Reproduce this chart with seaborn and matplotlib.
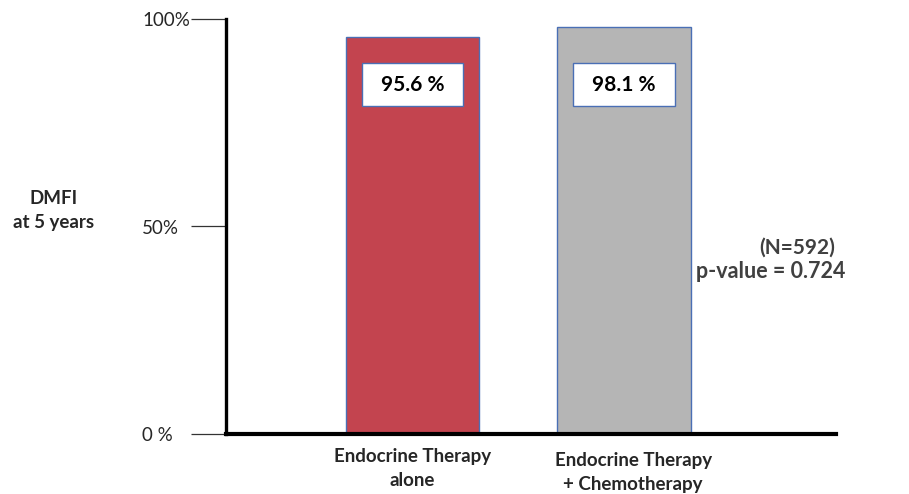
import matplotlib
matplotlib.use("Agg")
import matplotlib.pyplot as plt
import matplotlib.transforms as mtransforms
import seaborn as sns
import pandas as pd
from matplotlib.patches import Rectangle

# Values
groups = ["Endocrine Therapy\nalone", "Endocrine Therapy\n+ Chemotherapy"]
dmfi_pct = [95.6, 98.1]
bar_colors = ["#C3444F", "#B5B5B5"]
y_ticks = [0, 50, 100]
y_tick_labels = ["0 %", "50%", "100%"]
n_patients = 592
p_value = 0.724

sns.set_theme(style="white")
plt.rcParams["font.family"] = ["Lato", "DejaVu Sans"]

df = pd.DataFrame({"group": groups, "dmfi": dmfi_pct})

fig = plt.figure(figsize=(9.09, 4.94), dpi=100)
ax = fig.add_axes([226 / 909, 1 - 434 / 494, (836 - 226) / 909, (434 - 19) / 494])

sns.barplot(data=df, x="group", y="dmfi", hue="group", palette=bar_colors,
            saturation=1, width=0.63, edgecolor="#4A6FB5", linewidth=1.0,
            legend=False, ax=ax, zorder=2)

ax.set_xlim(-0.88, 2.0)
ax.set_ylim(0, 100)

# Value boxes inside the bars
for i, v in enumerate(dmfi_pct):
    ax.add_patch(Rectangle((i - 0.24, 79.0), 0.48, 10.5, facecolor="white",
                           edgecolor="#4A6FB5", linewidth=1.0, zorder=3))
    ax.text(i, 84.1, f"{v:.1f} %", ha="center", va="center", fontsize=15,
            fontweight="bold", color="black", zorder=4)

# Axes styling
for side in ["top", "right"]:
    ax.spines[side].set_visible(False)
ax.spines["left"].set_linewidth(2.4)
ax.spines["left"].set_color("black")
ax.spines["bottom"].set_linewidth(3.0)
ax.spines["bottom"].set_color("black")
ax.spines["left"].set_zorder(5)
ax.spines["bottom"].set_zorder(5)

ax.set_yticks(y_ticks)
ax.set_yticklabels(y_tick_labels, fontsize=13.5)
ax.tick_params(axis="y", which="major", direction="out", length=25, width=0.9,
               color="#333333", pad=1, left=True)
# extra gap between the lower tick labels and their tick lines
for lbl, shift in zip(ax.get_yticklabels(), [-17, -11, 0]):
    lbl.set_transform(lbl.get_transform() +
                      mtransforms.ScaledTranslation(shift / 100, 0, fig.dpi_scale_trans))

ax.tick_params(axis="x", length=0, pad=10)
for lbl, (dx, dy) in zip(ax.get_xticklabels(), [(0, 0), (9, -4)]):
    lbl.set_fontweight("bold")
    lbl.set_fontsize(13.5)
    lbl.set_linespacing(1.5)
    lbl.set_transform(lbl.get_transform() +
                      mtransforms.ScaledTranslation(dx / 100, dy / 100, fig.dpi_scale_trans))
ax.set_xlabel("")
ax.set_ylabel("")

# Side annotations
fig.text(54 / 909, 1 - 210 / 494, "DMFI\nat 5 years", ha="center", va="center",
         fontsize=13.5, fontweight="bold", linespacing=1.5)
fig.text(797 / 909, 1 - 248 / 494, f"(N={n_patients})", ha="center", va="center",
         fontsize=15, fontweight="bold", color="#404040")
fig.text(771 / 909, 1 - 271 / 494, f"p-value = {p_value}", ha="center", va="center",
         fontsize=15.5, fontweight="bold", color="#404040")

fig.savefig("out.png", dpi=100)
